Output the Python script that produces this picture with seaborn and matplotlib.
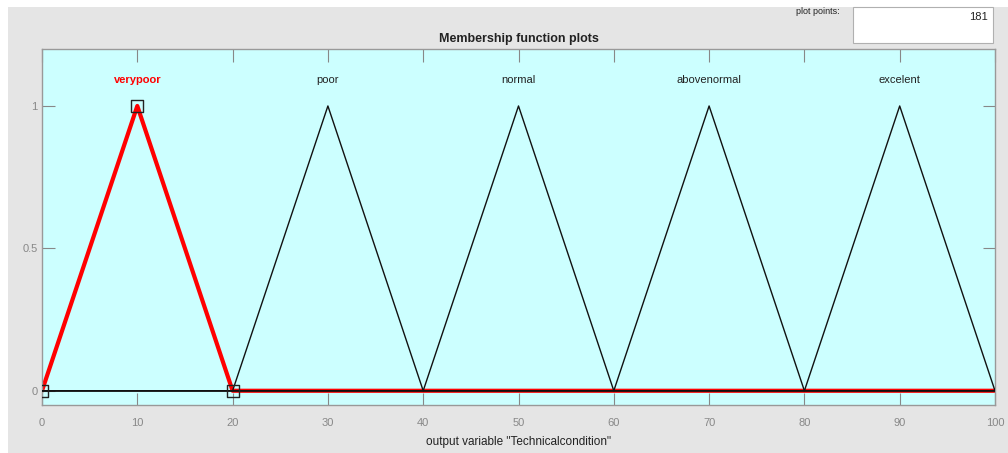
import matplotlib

matplotlib.use("Agg")

import matplotlib.pyplot as plt
import pandas as pd
import seaborn as sns
from matplotlib.patches import Rectangle

# Membership functions of the output variable (triangular: a, b, c)
mf_names = ["verypoor", "poor", "normal", "abovenormal", "excelent"]
mf_a = [0, 20, 40, 60, 80]
mf_b = [10, 30, 50, 70, 90]
mf_c = [20, 40, 60, 80, 100]
x_range = [0, 100]
x_ticks = [0, 10, 20, 30, 40, 50, 60, 70, 80, 90, 100]
y_ticks = [0, 0.5, 1]
y_tick_labels = ["0", "0.5", "1"]
selected = "verypoor"
plot_points = 181

rows = []
for name, a, b, c in zip(mf_names, mf_a, mf_b, mf_c):
    xs = [x_range[0], a, b, c, x_range[1]]
    ys = [0, 0, 1, 0, 0]
    for order, (xv, yv) in enumerate(zip(xs, ys)):
        rows.append({"mf": name, "order": order, "x": xv, "mu": yv})
mf_df = pd.DataFrame(rows)

sns.set_theme(style="white")
plt.rcParams["font.family"] = ["Liberation Sans Narrow", "Liberation Sans", "DejaVu Sans"]

fig = plt.figure(figsize=(10.08, 4.53), dpi=100)
fig.patch.set_facecolor("white")
fig.patches.append(Rectangle((8 / 1008, 0), 1 - 8 / 1008, 446 / 453, transform=fig.transFigure,
                             facecolor="#e5e5e5", edgecolor="none", zorder=-10))
fig.patches.append(Rectangle((853 / 1008, (453 - 43) / 453), 140 / 1008, 36 / 453, transform=fig.transFigure,
                             facecolor="white", edgecolor="#b0b0b0", linewidth=0.8, zorder=-9))
fig.text(988 / 1008, (453 - 17) / 453, str(plot_points), ha="right", va="center", fontsize=8, color="#222222")
fig.text(818 / 1008, (453 - 12) / 453, "plot points:", ha="center", va="center", fontsize=6.5, color="#222222")
fig.text(0.0, 1.025, "ctics).", ha="left", va="center", fontsize=16, style="italic",
         family=["DejaVu Serif"], color="black")

ax = fig.add_axes([42 / 1008, (453 - 405) / 453, 953 / 1008, 356 / 453])
ax.set_facecolor("#ccffff")

sel_df = mf_df[mf_df["mf"] == selected]
sns.lineplot(data=sel_df, x="x", y="mu", sort=False, estimator=None, color="red",
             linewidth=3.0, ax=ax, zorder=2)
other_df = mf_df[mf_df["mf"] != selected]
sns.lineplot(data=other_df, x="x", y="mu", units="mf", sort=False, estimator=None,
             color="#111111", linewidth=1.0, ax=ax, zorder=3)

# square handles on the selected membership function
sel_idx = mf_names.index(selected)
handles = pd.DataFrame({"x": [mf_a[sel_idx], mf_b[sel_idx], mf_c[sel_idx]], "mu": [0, 1, 0]})
sns.scatterplot(data=handles, x="x", y="mu", marker="s", s=75, facecolor="none",
                edgecolor="#222222", linewidth=1.0, ax=ax, zorder=4)

for name, b in zip(mf_names, mf_b):
    ax.text(b, 1.09, name, ha="center", va="center", fontsize=8,
            color="red" if name == selected else "#222222",
            fontweight="bold" if name == selected else "normal")

ax.set_xlim(x_range)
ax.set_ylim(-0.05, 1.2)
ax.set_xticks(x_ticks)
ax.set_xticklabels([str(t) for t in x_ticks])
ax.set_yticks(y_ticks)
ax.set_yticklabels(y_tick_labels)
ax.tick_params(direction="in", length=9, width=0.8, color="#888888", labelcolor="#888888",
               labelsize=8, top=True, right=True, bottom=True, left=True)
ax.tick_params(axis="x", pad=9)
ax.tick_params(axis="y", pad=3)
for spine in ax.spines.values():
    spine.set_color("#999999")
    spine.set_linewidth(1.0)

ax.set_xlabel('output variable "Technicalcondition"', fontsize=8.5, color="#222222", labelpad=6)
ax.set_ylabel("")
ax.set_title("Membership function plots", fontsize=9, fontweight="bold", color="#222222", pad=5)

fig.savefig("out.png", dpi=100, facecolor=fig.get_facecolor())
